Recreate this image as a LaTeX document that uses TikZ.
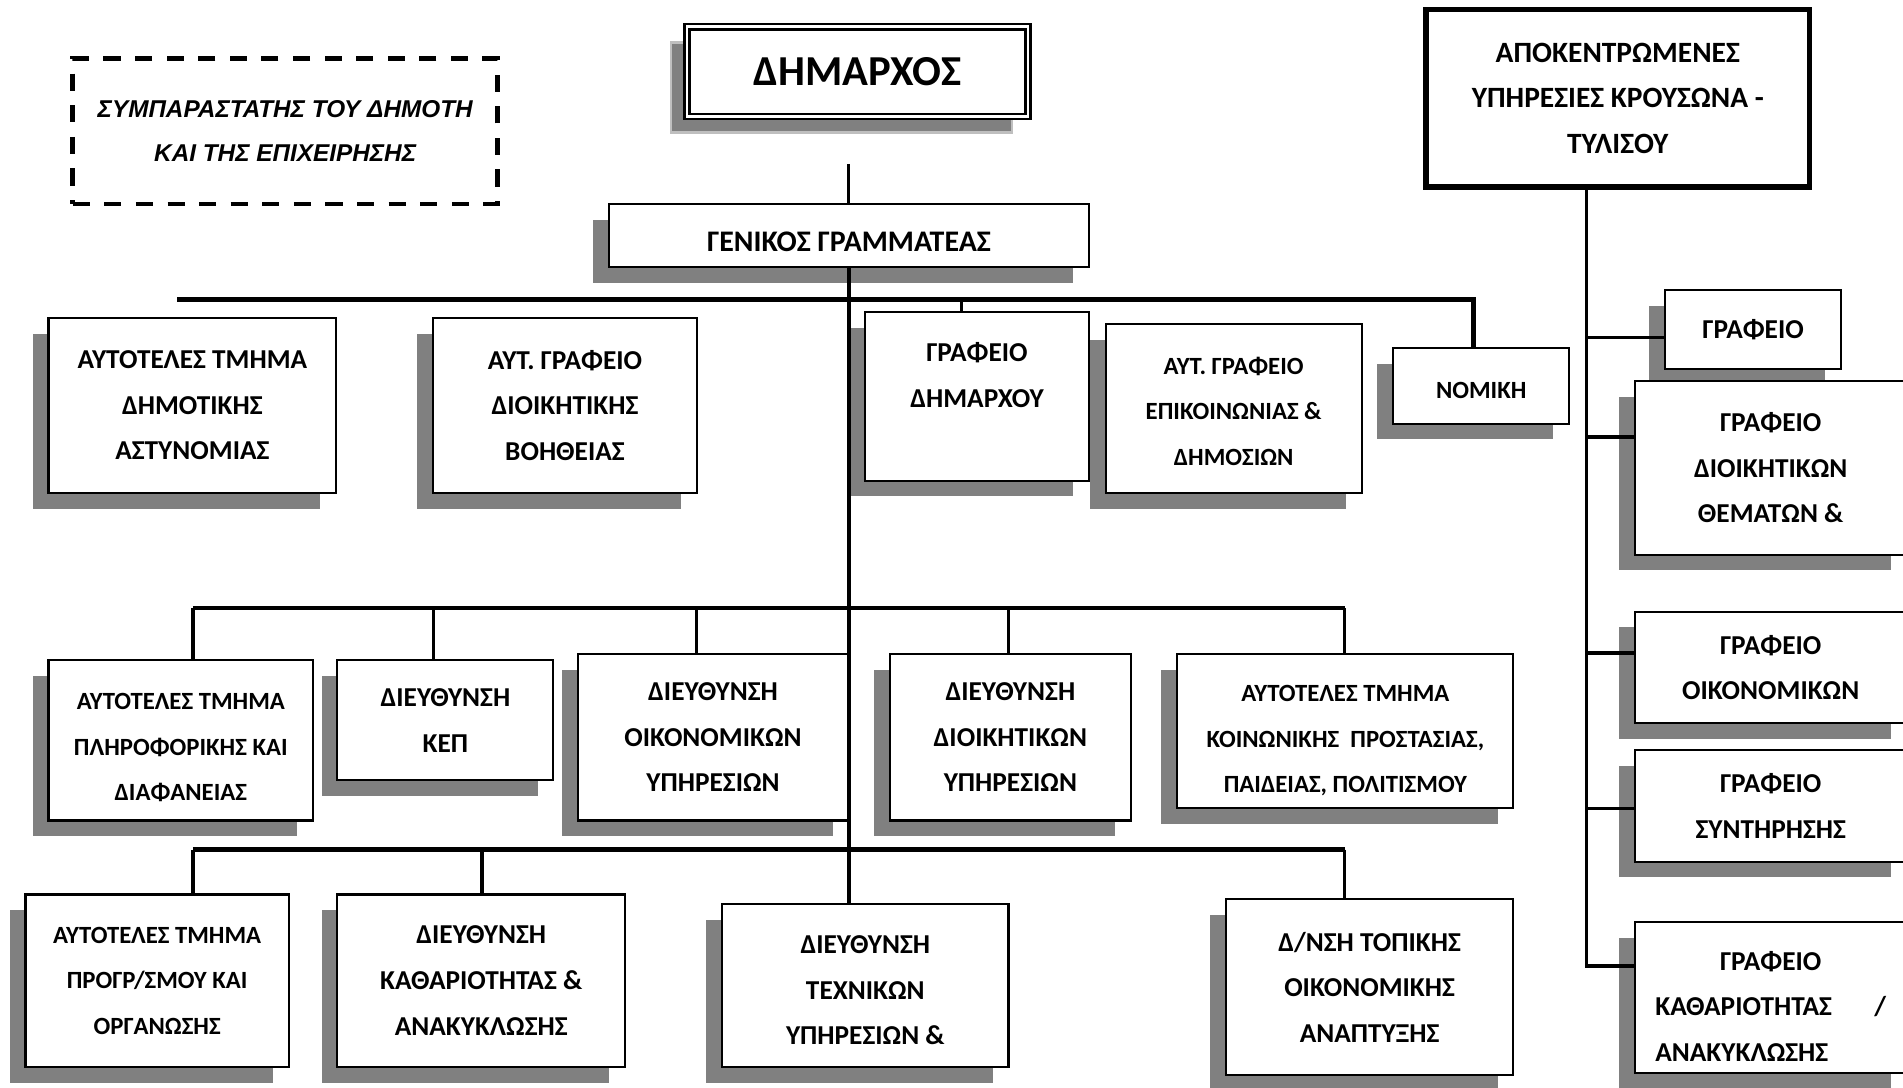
\documentclass[tikz,border=0pt]{standalone}
\usepackage{fontspec}
\setmainfont{Carlito}
\newfontfamily\dashfont{Liberation Sans}
\usetikzlibrary{shadows}
\newcommand\dropline[1]{\rule{0pt}{#1}}

\begin{document}
\begin{tikzpicture}[x=0.01cm, y=-0.01cm,
        wh/.style 2 args={minimum width=#1*0.01cm, minimum height=#2*0.01cm},
        unitbox/.style={draw, fill=white, line width=0.5pt, inner sep=0pt, align=center,
            font=\fontsize{6.4}{10.7}\selectfont\bfseries},
        org/.style={unitbox, drop shadow={shadow xshift=-0.13cm, shadow yshift=-0.13cm,
            opacity=1, fill=black!50}},
        smalltext/.style={font=\fontsize{5.8}{10.7}\selectfont\bfseries},
        link/.style={line width=0.8pt},
        bus/.style={line width=1.1pt}]
    \useasboundingbox (0,0) rectangle (1568,896);

    \node[draw, line width=1.1pt, dash pattern=on 4pt off 3.4pt, wh={350}{120}, align=center,
        font=\dashfont\fontsize{5.7}{10.5}\selectfont\bfseries\itshape] (sym) at (235,108)
        {ΣΥΜΠΑΡΑΣΤΑΤΗΣ ΤΟΥ ΔΗΜΟΤΗ\\ΚΑΙ ΤΗΣ ΕΠΙΧΕΙΡΗΣΗΣ};
    \node[unitbox, wh={281}{74}, line width=0.6pt, double, double distance=0.6pt,
        font=\fontsize{10}{12}\selectfont\bfseries,
        drop shadow={shadow xshift=-0.13cm, shadow yshift=-0.13cm, opacity=1,
            fill=black!50, draw=black!25, line width=0.6pt}] (dim) at (706.5,59) {ΔΗΜΑΡΧΟΣ};
    \node[unitbox, wh={316}{146}, line width=1.3pt, font=\fontsize{6.9}{10.7}\selectfont\bfseries] (apok) at (1333,81)
        {ΑΠΟΚΕΝΤΡΩΜΕΝΕΣ\\ΥΠΗΡΕΣΙΕΣ ΚΡΟΥΣΩΝΑ -\\ΤΥΛΙΣΟΥ};
    \node[org, wh={395}{52}, font=\fontsize{7}{10.7}\selectfont\bfseries] (gg) at (699.5,194)
        {\dropline{7.4pt}ΓΕΝΙΚΟΣ ΓΡΑΜΜΑΤΕΑΣ};

    \node[org, wh={237}{144}] (astyn) at (158.5,334) {ΑΥΤΟΤΕΛΕΣ ΤΜΗΜΑ\\ΔΗΜΟΤΙΚΗΣ\\ΑΣΤΥΝΟΜΙΑΣ};
    \node[org, wh={217}{144}] (boith) at (465.5,334) {ΑΥΤ. ΓΡΑΦΕΙΟ\\ΔΙΟΙΚΗΤΙΚΗΣ\\ΒΟΗΘΕΙΑΣ};
    \node[org, wh={184}{139}] (grdim) at (805,326.5) {ΓΡΑΦΕΙΟ\\ΔΗΜΑΡΧΟΥ\\[-4pt]\strut};
    \node[org, smalltext, wh={211}{139}] (epik) at (1016.5,336.5) {\dropline{5.4pt}ΑΥΤ. ΓΡΑΦΕΙΟ\\ΕΠΙΚΟΙΝΩΝΙΑΣ \&\\ΔΗΜΟΣΙΩΝ};
    \node[org, smalltext, wh={145}{62}] (nom) at (1220.5,318) {\dropline{5.8pt}ΝΟΜΙΚΗ};

    \node[org, wh={145}{65}] (rgraf) at (1444.5,271.5) {ΓΡΑΦΕΙΟ};
    \node[org, wh={224}{143}] (rdioik) at (1459,385.5) {ΓΡΑΦΕΙΟ\\ΔΙΟΙΚΗΤΙΚΩΝ\\ΘΕΜΑΤΩΝ \&};
    \node[org, wh={224}{92}] (roik) at (1459,550) {ΓΡΑΦΕΙΟ\\ΟΙΚΟΝΟΜΙΚΩΝ};
    \node[org, wh={224}{92}] (rsynt) at (1459,664) {ΓΡΑΦΕΙΟ\\ΣΥΝΤΗΡΗΣΗΣ};
    \node[org, wh={224}{124}, align=left] (rkath) at (1459,822)
        {\dropline{8.6pt}\makebox[1.9cm]{ΓΡΑΦΕΙΟ}\\\makebox[1.9cm][s]{ΚΑΘΑΡΙΟΤΗΤΑΣ\hfill/}\\\makebox[1.9cm][l]{ΑΝΑΚΥΚΛΩΣΗΣ}};

    \node[org, smalltext, wh={218}{132}] (pliro) at (149,610) {\dropline{7.2pt}ΑΥΤΟΤΕΛΕΣ ΤΜΗΜΑ\\ΠΛΗΡΟΦΟΡΙΚΗΣ ΚΑΙ\\ΔΙΑΦΑΝΕΙΑΣ};
    \node[org, wh={178}{99}] (kep) at (367,593.5) {ΔΙΕΥΘΥΝΣΗ\\ΚΕΠ};
    \node[org, wh={223}{137}] (oik) at (587.5,607.5) {ΔΙΕΥΘΥΝΣΗ\\ΟΙΚΟΝΟΜΙΚΩΝ\\ΥΠΗΡΕΣΙΩΝ};
    \node[org, wh={199}{137}] (dioik) at (832.5,607.5) {ΔΙΕΥΘΥΝΣΗ\\ΔΙΟΙΚΗΤΙΚΩΝ\\ΥΠΗΡΕΣΙΩΝ};
    \node[org, smalltext, wh={277}{127}] (koin) at (1108.5,602.5) {\dropline{8.3pt}ΑΥΤΟΤΕΛΕΣ ΤΜΗΜΑ\\ΚΟΙΝΩΝΙΚΗΣ~~ΠΡΟΣΤΑΣΙΑΣ,\\ΠΑΙΔΕΙΑΣ, ΠΟΛΙΤΙΣΜΟΥ};

    \node[org, smalltext, wh={217}{142}] (progr) at (129.5,808) {ΑΥΤΟΤΕΛΕΣ ΤΜΗΜΑ\\ΠΡΟΓΡ/ΣΜΟΥ ΚΑΙ\\ΟΡΓΑΝΩΣΗΣ};
    \node[org, wh={237}{142}] (kath) at (396.5,808) {ΔΙΕΥΘΥΝΣΗ\\ΚΑΘΑΡΙΟΤΗΤΑΣ \&\\ΑΝΑΚΥΚΛΩΣΗΣ};
    \node[org, wh={236}{134}] (tech) at (713,812) {\dropline{6.4pt}ΔΙΕΥΘΥΝΣΗ\\ΤΕΧΝΙΚΏΝ\\ΥΠΗΡΕΣΙΩΝ \&};
    \node[org, wh={237}{145}] (topik) at (1128.5,813.5) {Δ/ΝΣΗ ΤΟΠΙΚΗΣ\\ΟΙΚΟΝΟΜΙΚΗΣ\\ΑΝΑΠΤΥΞΗΣ};

    \coordinate (dimfoot) at (699,135);
    \draw[link] (dimfoot) -- (dimfoot |- gg.north);
    \draw[link] (gg.south) -- (gg.south |- tech.north);

    \coordinate (bus1w) at (146,247);
    \coordinate (bus1e) at (1214,247);
    \draw[bus] (bus1w) -- (bus1e) -- (bus1e |- nom.north);
    \draw[link] (792,247) -- (792,247 |- grdim.north);

    \draw[bus] (159,501) -- (1108,501);
    \foreach \x/\n in {159/pliro, 357/kep, 574/oik, 831/dioik, 1108/koin}
        \draw[link] (\x,501) -- (\x,501 |- \n.north);

    \draw[bus] (159,700) -- (1108,700);
    \foreach \x/\n in {159/progr, 397/kath, 1108/topik}
        \draw[link] (\x,700) -- (\x,700 |- \n.north);

    \coordinate (rtop) at ([xshift=-0.26cm]apok.south);
    \draw[link] (rtop) |- ([yshift=0.26cm]rkath.west);
    \draw[link] ([yshift=-0.065cm]rgraf.west) -- ++(-65,0);
    \foreach \n/\s in {rdioik/0.255, roik/0.12, rsynt/-0.02}
        \draw[link] ([yshift=\s cm]\n.west) -- ++(-40,0);
\end{tikzpicture}
\end{document}
